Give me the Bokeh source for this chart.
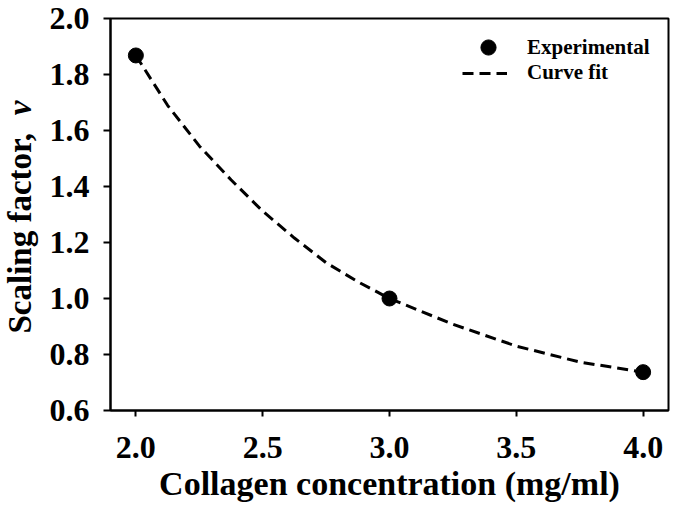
import numpy as np
from bokeh.plotting import figure
from bokeh.layouts import row
from bokeh.core.properties import value
from bokeh.models import Range1d, FixedTicker, Legend, LegendItem, NumeralTickFormatter
from bokeh.embed import file_html
from bokeh.resources import INLINE

# Experimental data
conc = [2.0, 3.0, 4.0]
scaling = [1.868, 1.0, 0.737]

# Curve fit
fit_x = [2.0, 2.125, 2.25, 2.375, 2.5, 2.625, 2.75, 2.875, 3.0, 3.25, 3.5, 3.75, 4.0]
fit_y = [1.868, 1.69, 1.545, 1.424, 1.312, 1.216, 1.128, 1.06, 1.0, 0.908, 0.83, 0.773, 0.737]

x_ticks = [2.0, 2.5, 3.0, 3.5, 4.0]
y_ticks = [0.6, 0.8, 1.0, 1.2, 1.4, 1.6, 1.8, 2.0]

FONT = "Liberation Serif"
W = 45      # width of the strip holding the y-axis title
H = 515

# ---- strip with the rotated y-axis title ----
lab = figure(frame_width=W, frame_height=H, output_backend="svg", toolbar_location=None,
             x_range=Range1d(0, W), y_range=Range1d(H, 0),
             x_axis_type=None, y_axis_type=None,
             min_border=0, outline_line_color=None)
lab.grid.visible = False
lab.text(x=[19], y=[315], text=["Scaling factor, "], angle=np.pi / 2,
         text_align="left", text_baseline="alphabetic",
         text_font=value(FONT), text_font_style=value("bold"),
         text_font_size=value("33px"), text_color="black")
lab.text(x=[19], y=[82], text=["v"], angle=np.pi / 2,
         text_align="right", text_baseline="alphabetic",
         text_font=value(FONT), text_font_style=value("bold italic"),
         text_font_size=value("33px"), text_color="black")

# ---- main plot ----
p = figure(frame_width=558, frame_height=392, output_backend="svg", toolbar_location=None,
           x_range=Range1d(1.9, 4.1), y_range=Range1d(0.6, 2.0),
           min_border_left=110 - W, min_border_right=8, min_border_top=18, min_border_bottom=105)

p.xgrid.visible = False
p.ygrid.visible = False
p.outline_line_color = "black"
p.outline_line_width = 2
p.outline_line_alpha = 1.0

fit = p.line(fit_x, fit_y, line_color="black", line_width=3, line_dash="11 6")
pts = p.scatter(conc, scaling, size=15, fill_color="black", line_color="black")

for ax in (p.xaxis[0], p.yaxis[0]):
    ax.axis_line_width = 2
    ax.major_tick_line_width = 2
    ax.minor_tick_line_color = None
    ax.major_tick_in = 0
    ax.major_label_text_font = FONT
    ax.major_label_text_font_style = "bold"
    ax.major_label_text_font_size = "32px"
    ax.major_label_text_color = "black"
    ax.axis_label_text_font = FONT
    ax.axis_label_text_font_style = "bold"
    ax.axis_label_text_font_size = "34px"
    ax.axis_label_text_color = "black"

p.xaxis[0].ticker = FixedTicker(ticks=x_ticks)
p.yaxis[0].ticker = FixedTicker(ticks=y_ticks)
p.xaxis[0].formatter = NumeralTickFormatter(format="0.0")
p.yaxis[0].formatter = NumeralTickFormatter(format="0.0")
p.xaxis[0].major_tick_out = 6
p.yaxis[0].major_tick_out = 7
p.xaxis[0].major_label_standoff = 20
p.yaxis[0].major_label_standoff = 14
p.xaxis[0].axis_label = "Collagen concentration (mg/ml)"
p.xaxis[0].axis_label_standoff = 4

common = dict(padding=0, margin=0, spacing=0, label_standoff=20, label_height=22,
              label_text_font=FONT, label_text_font_style="bold",
              label_text_font_size="21px", label_text_color="black",
              border_line_color=None, background_fill_alpha=0)
leg1 = Legend(items=[LegendItem(label="Experimental", renderers=[pts])],
              location=(469 - 110, 410 - 66), glyph_width=38, glyph_height=38, **common)
leg2 = Legend(items=[LegendItem(label="Curve fit", renderers=[fit])],
              location=(462 - 110, 410 - 85), glyph_width=45, glyph_height=22, **common)
p.add_layout(leg1)
p.add_layout(leg2)

layout = row(lab, p)
open("out.html", "w").write(file_html(layout, INLINE))
